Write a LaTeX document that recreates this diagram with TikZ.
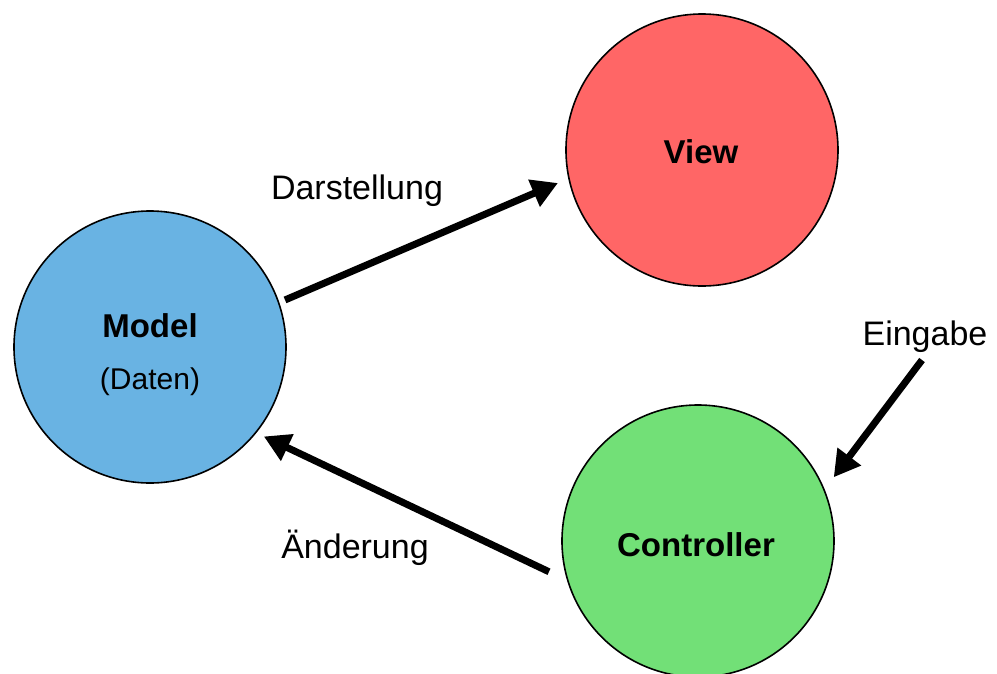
\documentclass[tikz,border=0pt]{standalone}
\usepackage{fontspec}
\setmainfont{Liberation Sans}
\usetikzlibrary{arrows.meta}

\definecolor{modelblue}{HTML}{69B3E3}
\definecolor{viewred}{HTML}{FF6666}
\definecolor{ctrlgreen}{HTML}{72E077}

\tikzset{
  part/.style={circle, draw=black, line width=1.6pt, minimum size=272pt,
    inner sep=0pt, outer sep=0pt},
  txt/.style={font=\fontsize{34}{40}\selectfont, anchor=base, inner sep=0pt},
  subtxt/.style={txt, font=\fontsize{30}{36}\selectfont},
  title/.style={txt, font=\fontsize{33}{40}\selectfont\bfseries},
  flow/.style={line width=7pt, -{Triangle[length=26pt,width=28pt]}}
}

\begin{document}
\begin{tikzpicture}[x=1pt,y=-1pt]
  \useasboundingbox (0,0) rectangle (997,673);

  % the three parts of the pattern
  \node[part, fill=modelblue] (model) at (150,347) {};
  \node[part, fill=viewred]   (view)  at (702,150) {};
  \node[part, fill=ctrlgreen] (ctrl)  at (698,541) {};

  \node[title]  (modeltitle) at (150,337) {Model};
  \node[subtxt] (modelsub)   at (150,389) {(Daten)};
  \node[title]  (viewtitle)  at (701,163) {View};
  \node[title]  (ctrltitle)  at (696,556) {Controller};

  % edge labels
  \node[txt] (lbldar) at (357,199) {Darstellung};
  \node[txt] (lbland) at (355,558) {Änderung};
  \node[txt] (lblein) at (925,345) {Eingabe};

  % data flow
  \coordinate (einstart) at (922,360);
  \draw[flow, shorten <=7pt, shorten >=12pt] (model.19) -- (view.192);
  \draw[flow, shorten <=21pt, shorten >=9pt] (ctrl.197) -- (model.-39);
  \draw[flow, shorten >=16pt] (einstart) -- (ctrl.22);
\end{tikzpicture}
\end{document}
